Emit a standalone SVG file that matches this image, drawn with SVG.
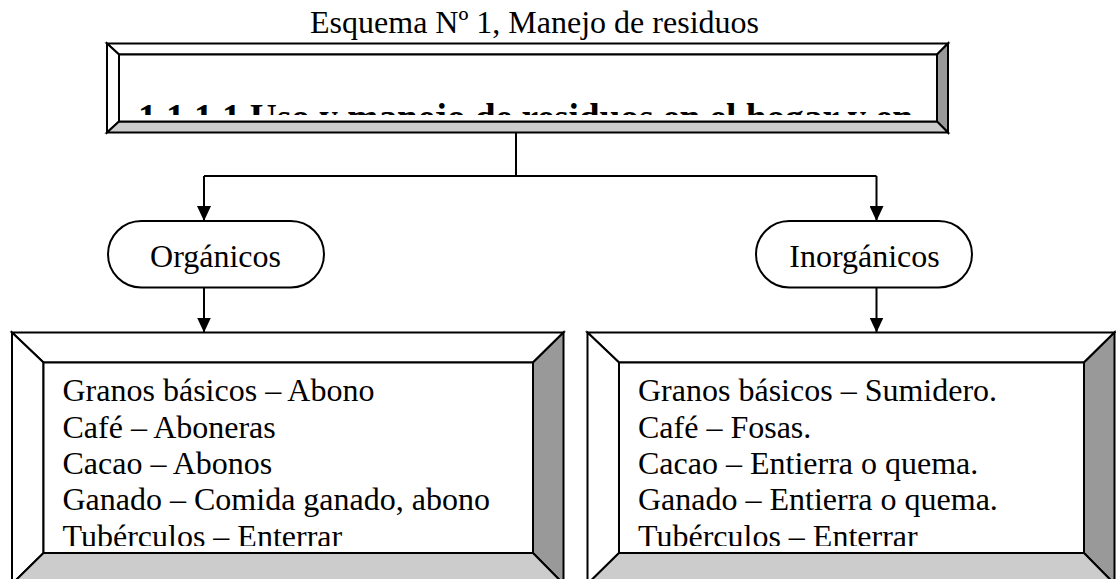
<svg xmlns="http://www.w3.org/2000/svg" width="1116" height="579" viewBox="0 0 1116 579">
<defs>
<style>
.t{font-family:"Liberation Serif","Times New Roman",serif;fill:#000;font-size:32px}
.hb{font-family:"Liberation Serif","Times New Roman",serif;fill:#000;font-size:37.5px;font-weight:bold}
.b{stroke:#000;stroke-width:2;stroke-linejoin:miter}
.w{fill:#fff}.d{fill:#999}.l{fill:#ccc}
.c{fill:none;stroke:#000;stroke-width:2}
.term{fill:#fff;stroke:#000;stroke-width:2}
</style>
<marker id="ah" markerUnits="userSpaceOnUse" markerWidth="15" markerHeight="14" refX="15" refY="7" orient="auto"><path d="M0,0L15,7L0,14z" fill="#000"/></marker>
<clipPath id="c0"><rect x="119" y="54.5" width="818" height="60.5"/></clipPath>
<clipPath id="c1"><rect x="43.5" y="362.5" width="489.5" height="183.5"/></clipPath>
<clipPath id="c2"><rect x="619" y="362.5" width="465" height="183.5"/></clipPath>
</defs>
<rect width="1116" height="579" fill="#fff"/>
<text id="title" class="t" x="534.5" y="33" text-anchor="middle">Esquema Nº 1, Manejo de residuos</text>

<g id="top-box">
<polygon class="b w" points="107,43.5 948,43.5 937,54.5 119,54.5"/>
<polygon class="b w" points="107,43.5 119,54.5 119,121.5 107,132.5"/>
<polygon class="b d" points="948,43.5 948,132.5 937,121.5 937,54.5"/>
<polygon class="b l" points="107,132.5 119,121.5 937,121.5 948,132.5"/>
<rect class="b w" x="119" y="54.5" width="818" height="67"/>
<g clip-path="url(#c0)"><text class="hb" x="138" y="129.5" textLength="775" lengthAdjust="spacing">1.1.1.1 Uso y manejo de residuos en el hogar y en</text></g>
</g>

<g id="connectors">
<path class="c" d="M516,132.5V176"/>
<path class="c" d="M204,176H876.5"/>
<path class="c" d="M204,176V221" marker-end="url(#ah)"/>
<path class="c" d="M876.5,176V221" marker-end="url(#ah)"/>
<path class="c" d="M204,287.5V332.5" marker-end="url(#ah)"/>
<path class="c" d="M876.5,287.5V332.5" marker-end="url(#ah)"/>
</g>

<g id="organicos">
<rect class="term" x="108" y="221" width="216" height="66.5" rx="33.25"/>
<text class="t" x="215.5" y="267.3" text-anchor="middle">Orgánicos</text>
</g>

<g id="inorganicos">
<rect class="term" x="756" y="221" width="216" height="66.5" rx="33.25"/>
<text class="t" x="864.5" y="267.3" text-anchor="middle">Inorgánicos</text>
</g>

<g id="box-organicos">
<polygon class="b w" points="12,332.5 563.5,332.5 533,362.5 43.5,362.5"/>
<polygon class="b w" points="12,332.5 43.5,362.5 43.5,553 12,584"/>
<polygon class="b d" points="563.5,332.5 563.5,584 533,553 533,362.5"/>
<polygon class="b l" points="12,584 43.5,553 533,553 563.5,584"/>
<rect class="b w" x="43.5" y="362.5" width="489.5" height="190.5"/>
<g clip-path="url(#c1)" class="t">
<text x="62.5" y="401">Granos básicos – Abono</text>
<text x="62.5" y="437.5">Café – Aboneras</text>
<text x="62.5" y="474">Cacao – Abonos</text>
<text x="62.5" y="510">Ganado – Comida ganado, abono</text>
<text x="62.5" y="546.5">Tubérculos – Enterrar</text>
</g>
</g>

<g id="box-inorganicos">
<polygon class="b w" points="587.5,332.5 1114.5,332.5 1084,362.5 619,362.5"/>
<polygon class="b w" points="587.5,332.5 619,362.5 619,553 587.5,584"/>
<polygon class="b d" points="1114.5,332.5 1114.5,584 1084,553 1084,362.5"/>
<polygon class="b l" points="587.5,584 619,553 1084,553 1114.5,584"/>
<rect class="b w" x="619" y="362.5" width="465" height="190.5"/>
<g clip-path="url(#c2)" class="t">
<text x="638" y="401">Granos básicos – Sumidero.</text>
<text x="638" y="437.5">Café – Fosas.</text>
<text x="638" y="474">Cacao – Entierra o quema.</text>
<text x="638" y="510">Ganado – Entierra o quema.</text>
<text x="638" y="546.5">Tubérculos – Enterrar</text>
</g>
</g>
</svg>
